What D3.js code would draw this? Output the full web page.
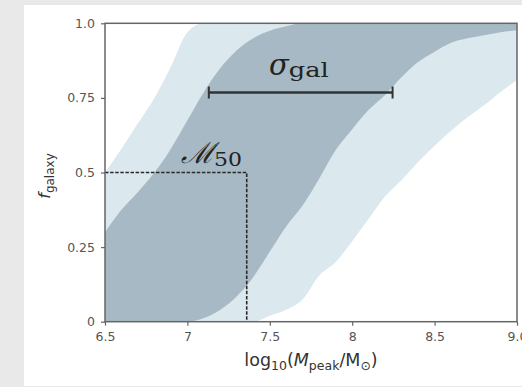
<!DOCTYPE html>
<html lang="en">
<head>
	<meta charset="UTF-8">
	<title>f_galaxy</title>
	<style>
		body {
			margin: 0;
			background-color: #e9e9e9;
			font-family: "DejaVu Sans", sans-serif;
		}
		svg {
			display: block;
		}
		.tick text {
			fill: #555;
			font-size: 12.5px;
			font-family: "DejaVu Sans", sans-serif;
		}
		.math {
			font-family: "DejaVu Serif", serif;
			fill: #222;
		}
	</style>
</head>
<body>
	<svg></svg>
<script src="https://cdnjs.cloudflare.com/ajax/libs/d3/7.8.5/d3.min.js"></script>
<script>
	const width = 522,
		height = 387;

	// log10(M_peak) grid and the four band edges
	const massGrid = [6.5, 6.6, 6.7, 6.8, 6.9, 7.0, 7.1, 7.2, 7.3, 7.4, 7.5, 7.6, 7.7,
		7.8, 7.9, 8.0, 8.1, 8.2, 8.3, 8.4, 8.5, 8.6, 8.7, 8.8, 8.9, 9.0];
	const lightUpper = [0.50, 0.58, 0.665, 0.75, 0.855, 0.97, 1, 1, 1, 1, 1, 1, 1,
		1, 1, 1, 1, 1, 1, 1, 1, 1, 1, 1, 1, 1];
	const lightLower = [0, 0, 0, 0, 0, 0, 0, 0, 0, 0, 0.02, 0.04, 0.075,
		0.155, 0.2, 0.27, 0.345, 0.42, 0.475, 0.535, 0.59, 0.64, 0.685, 0.725, 0.77, 0.81];
	const darkUpper = [0.30, 0.375, 0.435, 0.5, 0.58, 0.675, 0.77, 0.85, 0.91, 0.95, 0.975, 0.99, 1,
		1, 1, 1, 1, 1, 1, 1, 1, 1, 1, 1, 1, 1];
	const darkLower = [0, 0, 0, 0, 0, 0, 0.012, 0.04, 0.085, 0.15, 0.235, 0.32, 0.39,
		0.48, 0.575, 0.645, 0.71, 0.76, 0.82, 0.87, 0.905, 0.935, 0.95, 0.96, 0.97, 0.977];

	const xTicks = [6.5, 7, 7.5, 8, 8.5, 9];
	const xTickLabels = ['6.5', '7', '7.5', '8', '8.5', '9.0'];
	const yTicks = [0, 0.25, 0.5, 0.75, 1];
	const yTickLabels = ['0', '0.25', '0.5', '0.75', '1.0'];

	const m50 = 7.36, f50 = 0.5;
	const sigmaFrom = 7.13, sigmaTo = 8.245, sigmaF = 0.768;

	const svg = d3.select('svg')
		.attr('width', width)
		.attr('height', height);

	svg.append('rect')
		.attr('x', 24).attr('y', 5)
		.attr('width', width - 24).attr('height', 381)
		.attr('fill', '#fff');

	const x = d3.scaleLinear().domain([6.5, 9]).range([105, 517]);
	const y = d3.scaleLinear().domain([0, 1]).range([321.7, 23.3]);

	function band(lower, upper) {
		return d3.area()
			.x((d, i) => x(massGrid[i]))
			.y0((d, i) => y(lower[i]))
			.y1((d, i) => y(upper[i]))
			.curve(d3.curveMonotoneX)(massGrid);
	}

	svg.append('path').attr('d', band(lightLower, lightUpper)).attr('fill', '#dbe8ee');
	svg.append('path').attr('d', band(darkLower, darkUpper)).attr('fill', '#a6b9c4');

	// M50 guide
	svg.append('path')
		.attr('d', `M${x(6.5)},${y(f50)}H${x(m50)}V${y(0)}`)
		.attr('fill', 'none')
		.attr('stroke', '#2a2a2a')
		.attr('stroke-width', 1.6)
		.attr('stroke-dasharray', '3.5,1.6');

	// sigma bar
	svg.append('line')
		.attr('x1', x(sigmaFrom)).attr('x2', x(sigmaTo))
		.attr('y1', y(sigmaF)).attr('y2', y(sigmaF))
		.attr('stroke', '#333').attr('stroke-width', 2.5);
	[sigmaFrom, sigmaTo].forEach(v => {
		svg.append('line')
			.attr('x1', x(v)).attr('x2', x(v))
			.attr('y1', y(sigmaF) - 6).attr('y2', y(sigmaF) + 6)
			.attr('stroke', '#333').attr('stroke-width', 2);
	});

	const sig = svg.append('text').attr('class', 'math')
		.attr('x', 269).attr('y', 75);
	sig.append('tspan').attr('font-style', 'italic').attr('font-size', 29).text('σ');
	sig.append('tspan').attr('font-size', 20).attr('dy', 2)
		.attr('textLength', 40).attr('lengthAdjust', 'spacingAndGlyphs').text('gal');

	const mlab = svg.append('text').attr('class', 'math')
		.attr('x', 181).attr('y', 163);
	mlab.append('tspan').attr('font-style', 'italic').attr('font-size', 29).text('ℳ');
	mlab.append('tspan').attr('font-size', 19).attr('dy', 3)
		.attr('textLength', 28).attr('lengthAdjust', 'spacingAndGlyphs').text('50');

	// axes
	const xAxis = svg.append('g')
		.attr('transform', `translate(0,${y(0)})`)
		.call(d3.axisBottom(x).tickValues(xTicks).tickFormat((d, i) => xTickLabels[i]).tickSize(4).tickPadding(6));
	const yAxis = svg.append('g')
		.attr('transform', `translate(${x(6.5)},0)`)
		.call(d3.axisLeft(y).tickValues(yTicks).tickFormat((d, i) => yTickLabels[i]).tickSize(4).tickPadding(6));
	[xAxis, yAxis].forEach(g => {
		g.select('.domain').remove();
		g.selectAll('.tick line').attr('stroke', '#666').attr('stroke-width', 1.2);
	});

	svg.append('rect')
		.attr('x', x(6.5)).attr('y', y(1))
		.attr('width', x(9) - x(6.5)).attr('height', y(0) - y(1))
		.attr('fill', 'none')
		.attr('stroke', '#666')
		.attr('stroke-width', 1.5);

	const xl = svg.append('text')
		.attr('x', 311).attr('y', 366)
		.attr('text-anchor', 'middle')
		.attr('font-size', 17.5)
		.attr('fill', '#333');
	xl.append('tspan').text('log');
	xl.append('tspan').attr('font-size', 12.5).attr('dy', 4).text('10');
	xl.append('tspan').attr('dy', -4).text('(');
	xl.append('tspan').attr('font-style', 'italic').text('M');
	xl.append('tspan').attr('font-size', 12.5).attr('dy', 4).text('peak');
	xl.append('tspan').attr('dy', -4).text('/M');
	xl.append('tspan').attr('font-size', 12.5).attr('dy', 4).text('⊙');
	xl.append('tspan').attr('dy', -4).text(')');

	const yl = svg.append('text')
		.attr('transform', 'translate(50,176) rotate(-90)')
		.attr('text-anchor', 'middle')
		.attr('font-size', 16)
		.attr('fill', '#333');
	yl.append('tspan').attr('font-style', 'italic').text('f');
	yl.append('tspan').attr('font-size', 12).attr('dy', 4).text('galaxy');
</script>
</body>
</html>
